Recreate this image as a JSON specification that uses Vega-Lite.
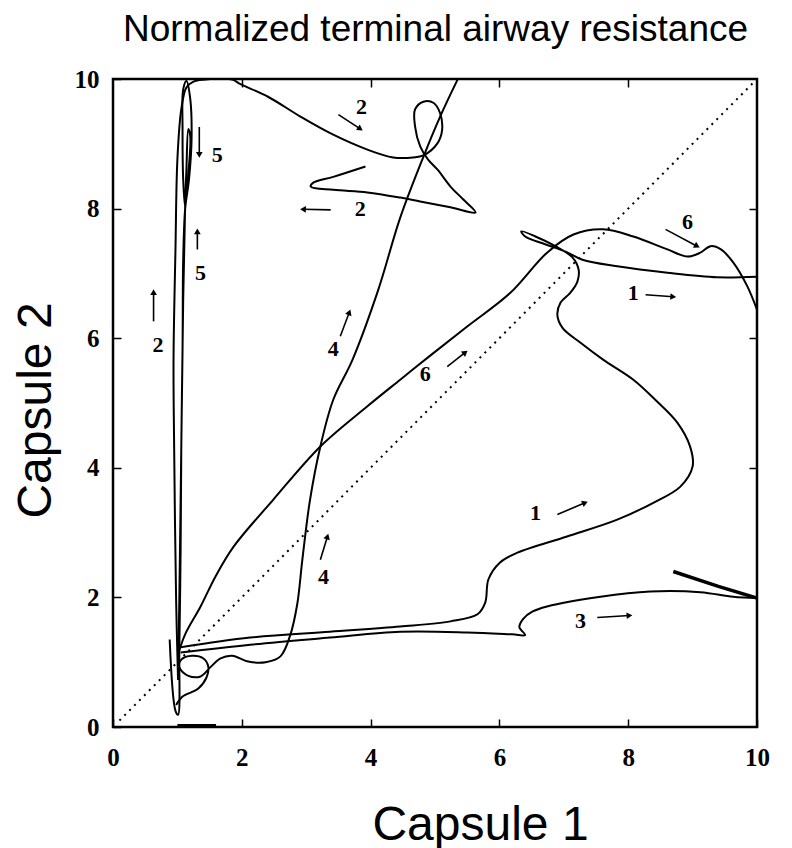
{
  "$schema": "https://vega.github.io/schema/vega-lite/v6.json",
  "width": 644,
  "height": 648,
  "autosize": "none",
  "padding": {"left": 113, "top": 79, "right": 35, "bottom": 121},
  "background": "white",
  "config": {"view": {"stroke": "black", "strokeWidth": 2.5}},
  "datasets": {
    "diag": [{"x": 0.1, "y": 0.1}, {"x": 9.95, "y": 9.95}],
    "curves": [
      {"c": "1", "i": 0, "x": 1.05, "y": 1.23}, {"c": "1", "i": 1, "x": 2.13, "y": 1.38}, {"c": "1", "i": 2, "x": 3.37, "y": 1.47}, {"c": "1", "i": 3, "x": 4.46, "y": 1.55}, {"c": "1", "i": 4, "x": 5.24, "y": 1.63}, {"c": "1", "i": 5, "x": 5.66, "y": 1.74}, {"c": "1", "i": 6, "x": 5.78, "y": 1.92}, {"c": "1", "i": 7, "x": 5.83, "y": 2.28}, {"c": "1", "i": 8, "x": 6.01, "y": 2.54}, {"c": "1", "i": 9, "x": 6.28, "y": 2.69}, {"c": "1", "i": 10, "x": 7.05, "y": 2.94}, {"c": "1", "i": 11, "x": 7.83, "y": 3.2}, {"c": "1", "i": 12, "x": 8.39, "y": 3.46}, {"c": "1", "i": 13, "x": 8.81, "y": 3.71}, {"c": "1", "i": 14, "x": 9.0, "y": 4.02}, {"c": "1", "i": 15, "x": 8.96, "y": 4.33}, {"c": "1", "i": 16, "x": 8.76, "y": 4.7}, {"c": "1", "i": 17, "x": 8.42, "y": 5.05}, {"c": "1", "i": 18, "x": 8.08, "y": 5.36}, {"c": "1", "i": 19, "x": 7.61, "y": 5.67}, {"c": "1", "i": 20, "x": 7.26, "y": 5.93}, {"c": "1", "i": 21, "x": 6.98, "y": 6.16}, {"c": "1", "i": 22, "x": 6.9, "y": 6.36}, {"c": "1", "i": 23, "x": 6.95, "y": 6.55}, {"c": "1", "i": 24, "x": 7.1, "y": 6.7}, {"c": "1", "i": 25, "x": 7.21, "y": 6.87}, {"c": "1", "i": 26, "x": 7.23, "y": 7.06}, {"c": "1", "i": 27, "x": 7.13, "y": 7.25}, {"c": "1", "i": 28, "x": 6.87, "y": 7.42}, {"c": "1", "i": 29, "x": 6.56, "y": 7.57}, {"c": "1", "i": 30, "x": 6.34, "y": 7.65}, {"c": "1", "i": 31, "x": 6.4, "y": 7.57}, {"c": "1", "i": 32, "x": 6.71, "y": 7.45}, {"c": "1", "i": 33, "x": 7.02, "y": 7.34}, {"c": "1", "i": 34, "x": 7.29, "y": 7.21}, {"c": "1", "i": 35, "x": 7.83, "y": 7.11}, {"c": "1", "i": 36, "x": 8.61, "y": 7.01}, {"c": "1", "i": 37, "x": 9.38, "y": 6.94}, {"c": "1", "i": 38, "x": 10.0, "y": 6.95},
      {"c": "2", "i": 0, "x": 1.01, "y": 0.73}, {"c": "2", "i": 1, "x": 0.98, "y": 1.97}, {"c": "2", "i": 2, "x": 0.95, "y": 4.28}, {"c": "2", "i": 3, "x": 0.94, "y": 5.67}, {"c": "2", "i": 4, "x": 0.97, "y": 7.37}, {"c": "2", "i": 5, "x": 1.0, "y": 8.76}, {"c": "2", "i": 6, "x": 1.06, "y": 9.53}, {"c": "2", "i": 7, "x": 1.14, "y": 9.87}, {"c": "2", "i": 8, "x": 1.25, "y": 9.96}, {"c": "2", "i": 9, "x": 1.4, "y": 9.99}, {"c": "2", "i": 10, "x": 1.85, "y": 9.99}, {"c": "2", "i": 11, "x": 1.98, "y": 9.92}, {"c": "2", "i": 12, "x": 2.4, "y": 9.73}, {"c": "2", "i": 13, "x": 2.91, "y": 9.42}, {"c": "2", "i": 14, "x": 3.42, "y": 9.14}, {"c": "2", "i": 15, "x": 3.95, "y": 8.91}, {"c": "2", "i": 16, "x": 4.35, "y": 8.79}, {"c": "2", "i": 17, "x": 4.66, "y": 8.79}, {"c": "2", "i": 18, "x": 4.82, "y": 8.82}, {"c": "2", "i": 19, "x": 5.04, "y": 9.01}, {"c": "2", "i": 20, "x": 5.11, "y": 9.21}, {"c": "2", "i": 21, "x": 5.08, "y": 9.47}, {"c": "2", "i": 22, "x": 4.98, "y": 9.63}, {"c": "2", "i": 23, "x": 4.82, "y": 9.65}, {"c": "2", "i": 24, "x": 4.69, "y": 9.53}, {"c": "2", "i": 25, "x": 4.69, "y": 9.27}, {"c": "2", "i": 26, "x": 4.77, "y": 8.96}, {"c": "2", "i": 27, "x": 4.89, "y": 8.76}, {"c": "2", "i": 28, "x": 5.04, "y": 8.6}, {"c": "2", "i": 29, "x": 5.24, "y": 8.34}, {"c": "2", "i": 30, "x": 5.44, "y": 8.14}, {"c": "2", "i": 31, "x": 5.63, "y": 7.94}, {"c": "2", "i": 32, "x": 5.24, "y": 8.02}, {"c": "2", "i": 33, "x": 4.77, "y": 8.11}, {"c": "2", "i": 34, "x": 4.46, "y": 8.17}, {"c": "2", "i": 35, "x": 3.95, "y": 8.25}, {"c": "2", "i": 36, "x": 3.42, "y": 8.29}, {"c": "2", "i": 37, "x": 3.07, "y": 8.34}, {"c": "2", "i": 38, "x": 3.11, "y": 8.4}, {"c": "2", "i": 39, "x": 3.42, "y": 8.49}, {"c": "2", "i": 40, "x": 3.92, "y": 8.65},
      {"c": "3", "i": 0, "x": 1.05, "y": 1.15}, {"c": "3", "i": 1, "x": 2.13, "y": 1.27}, {"c": "3", "i": 2, "x": 3.37, "y": 1.38}, {"c": "3", "i": 3, "x": 4.46, "y": 1.47}, {"c": "3", "i": 4, "x": 5.5, "y": 1.46}, {"c": "3", "i": 5, "x": 6.2, "y": 1.43}, {"c": "3", "i": 6, "x": 6.4, "y": 1.42}, {"c": "3", "i": 7, "x": 6.31, "y": 1.54}, {"c": "3", "i": 8, "x": 6.37, "y": 1.67}, {"c": "3", "i": 9, "x": 6.51, "y": 1.78}, {"c": "3", "i": 10, "x": 6.74, "y": 1.86}, {"c": "3", "i": 11, "x": 7.57, "y": 2.01}, {"c": "3", "i": 12, "x": 8.34, "y": 2.09}, {"c": "3", "i": 13, "x": 9.12, "y": 2.08}, {"c": "3", "i": 14, "x": 9.63, "y": 2.01}, {"c": "3", "i": 15, "x": 10.0, "y": 1.99},
      {"c": "4", "i": 0, "x": 0.98, "y": 0.34}, {"c": "4", "i": 1, "x": 1.08, "y": 0.47}, {"c": "4", "i": 2, "x": 1.32, "y": 0.59}, {"c": "4", "i": 3, "x": 1.45, "y": 0.76}, {"c": "4", "i": 4, "x": 1.48, "y": 0.93}, {"c": "4", "i": 5, "x": 1.4, "y": 1.06}, {"c": "4", "i": 6, "x": 1.23, "y": 1.1}, {"c": "4", "i": 7, "x": 1.06, "y": 1.04}, {"c": "4", "i": 8, "x": 1.03, "y": 0.92}, {"c": "4", "i": 9, "x": 1.17, "y": 0.79}, {"c": "4", "i": 10, "x": 1.36, "y": 0.78}, {"c": "4", "i": 11, "x": 1.51, "y": 0.92}, {"c": "4", "i": 12, "x": 1.67, "y": 1.06}, {"c": "4", "i": 13, "x": 1.85, "y": 1.1}, {"c": "4", "i": 14, "x": 2.1, "y": 1.01}, {"c": "4", "i": 15, "x": 2.37, "y": 1.0}, {"c": "4", "i": 16, "x": 2.6, "y": 1.09}, {"c": "4", "i": 17, "x": 2.75, "y": 1.41}, {"c": "4", "i": 18, "x": 2.86, "y": 1.89}, {"c": "4", "i": 19, "x": 2.94, "y": 2.58}, {"c": "4", "i": 20, "x": 3.06, "y": 3.51}, {"c": "4", "i": 21, "x": 3.22, "y": 4.33}, {"c": "4", "i": 22, "x": 3.42, "y": 5.05}, {"c": "4", "i": 23, "x": 3.72, "y": 5.67}, {"c": "4", "i": 24, "x": 4.12, "y": 6.75}, {"c": "4", "i": 25, "x": 4.46, "y": 7.86}, {"c": "4", "i": 26, "x": 4.82, "y": 8.8}, {"c": "4", "i": 27, "x": 5.08, "y": 9.42}, {"c": "4", "i": 28, "x": 5.35, "y": 9.99},
      {"c": "5", "i": 0, "x": 0.88, "y": 1.35}, {"c": "5", "i": 1, "x": 0.97, "y": 0.25}, {"c": "5", "i": 2, "x": 1.01, "y": 0.19}, {"c": "5", "i": 3, "x": 1.03, "y": 1.2}, {"c": "5", "i": 4, "x": 1.05, "y": 2.74}, {"c": "5", "i": 5, "x": 1.06, "y": 4.28}, {"c": "5", "i": 6, "x": 1.08, "y": 5.83}, {"c": "5", "i": 7, "x": 1.09, "y": 7.21}, {"c": "5", "i": 8, "x": 1.12, "y": 7.99}, {"c": "5", "i": 9, "x": 1.18, "y": 8.45}, {"c": "5", "i": 10, "x": 1.22, "y": 9.07}, {"c": "5", "i": 11, "x": 1.2, "y": 9.69}, {"c": "5", "i": 12, "x": 1.14, "y": 9.97}, {"c": "5", "i": 13, "x": 1.09, "y": 9.84}, {"c": "5", "i": 14, "x": 1.08, "y": 9.23}, {"c": "5", "i": 15, "x": 1.09, "y": 8.45}, {"c": "5", "i": 16, "x": 1.12, "y": 8.03}, {"c": "5", "i": 17, "x": 1.17, "y": 8.53}, {"c": "5", "i": 18, "x": 1.2, "y": 9.12}, {"c": "5", "i": 19, "x": 1.17, "y": 9.23}, {"c": "5", "i": 20, "x": 1.14, "y": 8.6}, {"c": "5", "i": 21, "x": 1.12, "y": 8.03}, {"c": "5", "i": 22, "x": 1.09, "y": 6.6}, {"c": "5", "i": 23, "x": 1.06, "y": 4.28}, {"c": "5", "i": 24, "x": 1.03, "y": 1.97}, {"c": "5", "i": 25, "x": 1.01, "y": 0.73},
      {"c": "6", "i": 0, "x": 1.01, "y": 1.12}, {"c": "6", "i": 1, "x": 1.12, "y": 1.43}, {"c": "6", "i": 2, "x": 1.36, "y": 1.86}, {"c": "6", "i": 3, "x": 1.59, "y": 2.32}, {"c": "6", "i": 4, "x": 1.87, "y": 2.78}, {"c": "6", "i": 5, "x": 2.49, "y": 3.51}, {"c": "6", "i": 6, "x": 3.22, "y": 4.33}, {"c": "6", "i": 7, "x": 3.95, "y": 4.95}, {"c": "6", "i": 8, "x": 4.46, "y": 5.36}, {"c": "6", "i": 9, "x": 4.95, "y": 5.75}, {"c": "6", "i": 10, "x": 5.5, "y": 6.18}, {"c": "6", "i": 11, "x": 6.17, "y": 6.7}, {"c": "6", "i": 12, "x": 6.74, "y": 7.32}, {"c": "6", "i": 13, "x": 7.15, "y": 7.6}, {"c": "6", "i": 14, "x": 7.61, "y": 7.68}, {"c": "6", "i": 15, "x": 8.08, "y": 7.57}, {"c": "6", "i": 16, "x": 8.61, "y": 7.37}, {"c": "6", "i": 17, "x": 8.92, "y": 7.26}, {"c": "6", "i": 18, "x": 9.12, "y": 7.32}, {"c": "6", "i": 19, "x": 9.28, "y": 7.42}, {"c": "6", "i": 20, "x": 9.44, "y": 7.37}, {"c": "6", "i": 21, "x": 9.63, "y": 7.17}, {"c": "6", "i": 22, "x": 9.85, "y": 6.8}, {"c": "6", "i": 23, "x": 10.0, "y": 6.44}
    ],
    "thick": [
      {"c": "0", "i": 0, "x": 1.0, "y": 0.02}, {"c": "0", "i": 1, "x": 1.6, "y": 0.02},
      {"c": "s", "i": 0, "x": 8.7, "y": 2.4}, {"c": "s", "i": 1, "x": 9.4, "y": 2.17}, {"c": "s", "i": 2, "x": 10.0, "y": 1.99}
    ],
    "labels": [
      {"x": 3.86, "y": 9.57, "t": "2"}, {"x": 3.84, "y": 7.99, "t": "2"}, {"x": 1.62, "y": 8.82, "t": "5"}, {"x": 1.36, "y": 7.01, "t": "5"}, {"x": 0.7, "y": 5.9, "t": "2"}, {"x": 3.42, "y": 5.83, "t": "4"}, {"x": 3.27, "y": 2.31, "t": "4"}, {"x": 4.85, "y": 5.44, "t": "6"}, {"x": 8.92, "y": 7.8, "t": "6"}, {"x": 8.08, "y": 6.7, "t": "1"}, {"x": 6.56, "y": 3.31, "t": "1"}, {"x": 7.26, "y": 1.63, "t": "3"}
    ],
    "arrows": [
      {"x": 3.5, "y": 9.45, "x2": 3.84, "y2": 9.23, "a": 124}, {"x": 3.38, "y": 7.98, "x2": 2.95, "y2": 7.99, "a": 272}, {"x": 1.34, "y": 9.26, "x2": 1.34, "y2": 8.83, "a": 180}, {"x": 1.31, "y": 7.37, "x2": 1.31, "y2": 7.65, "a": 0}, {"x": 0.63, "y": 6.26, "x2": 0.63, "y2": 6.71, "a": 0}, {"x": 3.53, "y": 6.03, "x2": 3.67, "y2": 6.4, "a": 21}, {"x": 3.22, "y": 2.58, "x2": 3.33, "y2": 2.94, "a": 17}, {"x": 5.19, "y": 5.56, "x2": 5.47, "y2": 5.78, "a": 52}, {"x": 8.58, "y": 7.68, "x2": 9.07, "y2": 7.42, "a": 118}, {"x": 8.27, "y": 6.67, "x2": 8.7, "y2": 6.64, "a": 94}, {"x": 6.9, "y": 3.28, "x2": 7.33, "y2": 3.46, "a": 67}, {"x": 7.52, "y": 1.69, "x2": 8.02, "y2": 1.72, "a": 86}
    ]
  },
  "layer": [
    {
      "data": {"name": "diag"},
      "mark": {"type": "line", "color": "black", "strokeWidth": 2, "strokeDash": [2, 5]},
      "encoding": {
        "x": {"field": "x", "type": "quantitative", "scale": {"domain": [0, 10], "nice": false},
          "axis": {"orient": "bottom", "values": [0, 2, 4, 6, 8, 10], "format": "d", "grid": false, "domain": false, "tickSize": -8, "tickWidth": 1.5, "tickColor": "black", "labelFont": "Liberation Serif", "labelFontWeight": "bold", "labelFontSize": 25, "labelColor": "black", "labelPadding": 26, "labelFlush": false, "labelOverlap": false, "title": "Capsule 1", "titleFont": "Liberation Sans", "titleFontSize": 48, "titleFontWeight": "normal", "titleColor": "black", "titleX": 367, "titleY": 112, "titleBaseline": "alphabetic", "titleAlign": "center"}},
        "y": {"field": "y", "type": "quantitative", "scale": {"domain": [0, 10], "nice": false},
          "axis": {"orient": "left", "values": [0, 2, 4, 6, 8, 10], "format": "d", "grid": false, "domain": false, "tickSize": -8, "tickWidth": 1.5, "tickColor": "black", "labelFont": "Liberation Serif", "labelFontWeight": "bold", "labelFontSize": 25, "labelColor": "black", "labelPadding": 22, "labelFlush": false, "labelOverlap": false, "title": "Capsule 2", "titleFont": "Liberation Sans", "titleFontSize": 48, "titleFontWeight": "normal", "titleColor": "black", "titleX": -63, "titleY": 331, "titleAngle": -90, "titleBaseline": "alphabetic", "titleAlign": "center"}}
      }
    },
    {
      "data": {"name": "curves"},
      "mark": {"type": "line", "color": "black", "strokeWidth": 2, "interpolate": "catmull-rom", "clip": true},
      "encoding": {
        "x": {"field": "x", "type": "quantitative", "scale": {"domain": [0, 10], "nice": false}, "axis": null},
        "y": {"field": "y", "type": "quantitative", "scale": {"domain": [0, 10], "nice": false}, "axis": null},
        "detail": {"field": "c"},
        "order": {"field": "i", "type": "quantitative"}
      }
    },
    {
      "data": {"name": "thick"},
      "mark": {"type": "line", "color": "black", "strokeWidth": 3.5, "clip": true},
      "encoding": {
        "x": {"field": "x", "type": "quantitative", "scale": {"domain": [0, 10], "nice": false}, "axis": null},
        "y": {"field": "y", "type": "quantitative", "scale": {"domain": [0, 10], "nice": false}, "axis": null},
        "detail": {"field": "c"},
        "order": {"field": "i", "type": "quantitative"}
      }
    },
    {
      "data": {"name": "arrows"},
      "mark": {"type": "rule", "color": "black", "strokeWidth": 1.6},
      "encoding": {
        "x": {"field": "x", "type": "quantitative", "scale": {"domain": [0, 10], "nice": false}, "axis": null},
        "y": {"field": "y", "type": "quantitative", "scale": {"domain": [0, 10], "nice": false}, "axis": null},
        "x2": {"field": "x2"},
        "y2": {"field": "y2"}
      }
    },
    {
      "data": {"name": "arrows"},
      "mark": {"type": "point", "shape": "triangle-up", "filled": true, "color": "black", "opacity": 1, "size": 45},
      "encoding": {
        "x": {"field": "x2", "type": "quantitative", "scale": {"domain": [0, 10], "nice": false}, "axis": null},
        "y": {"field": "y2", "type": "quantitative", "scale": {"domain": [0, 10], "nice": false}, "axis": null},
        "angle": {"field": "a", "type": "quantitative", "scale": null}
      }
    },
    {
      "data": {"name": "labels"},
      "mark": {"type": "text", "font": "Liberation Serif", "fontWeight": "bold", "fontSize": 22, "color": "black", "align": "center", "baseline": "middle"},
      "encoding": {
        "x": {"field": "x", "type": "quantitative", "scale": {"domain": [0, 10], "nice": false}, "axis": null},
        "y": {"field": "y", "type": "quantitative", "scale": {"domain": [0, 10], "nice": false}, "axis": null},
        "text": {"field": "t"}
      }
    },
    {
      "data": {"name": "diag"},
      "mark": {"type": "point", "opacity": 0},
      "encoding": {
        "x": {"field": "x", "type": "quantitative", "scale": {"domain": [0, 10], "nice": false},
          "axis": {"orient": "top", "values": [2, 4, 6, 8], "labels": false, "grid": false, "domain": false, "tickSize": -8, "tickWidth": 1.5, "tickColor": "black", "title": "Normalized terminal airway resistance", "titleFont": "Liberation Sans", "titleFontSize": 37, "titleFontWeight": "normal", "titleColor": "black", "titleX": 322, "titleY": -39, "titleBaseline": "alphabetic", "titleAlign": "center", "titleAngle": 0}},
        "y": {"field": "y", "type": "quantitative", "scale": {"domain": [0, 10], "nice": false},
          "axis": {"orient": "right", "values": [2, 4, 6, 8], "labels": false, "grid": false, "domain": false, "tickSize": -8, "tickWidth": 1.5, "tickColor": "black", "title": null}}
      }
    }
  ],
  "resolve": {"axis": {"x": "independent", "y": "independent"}}
}
